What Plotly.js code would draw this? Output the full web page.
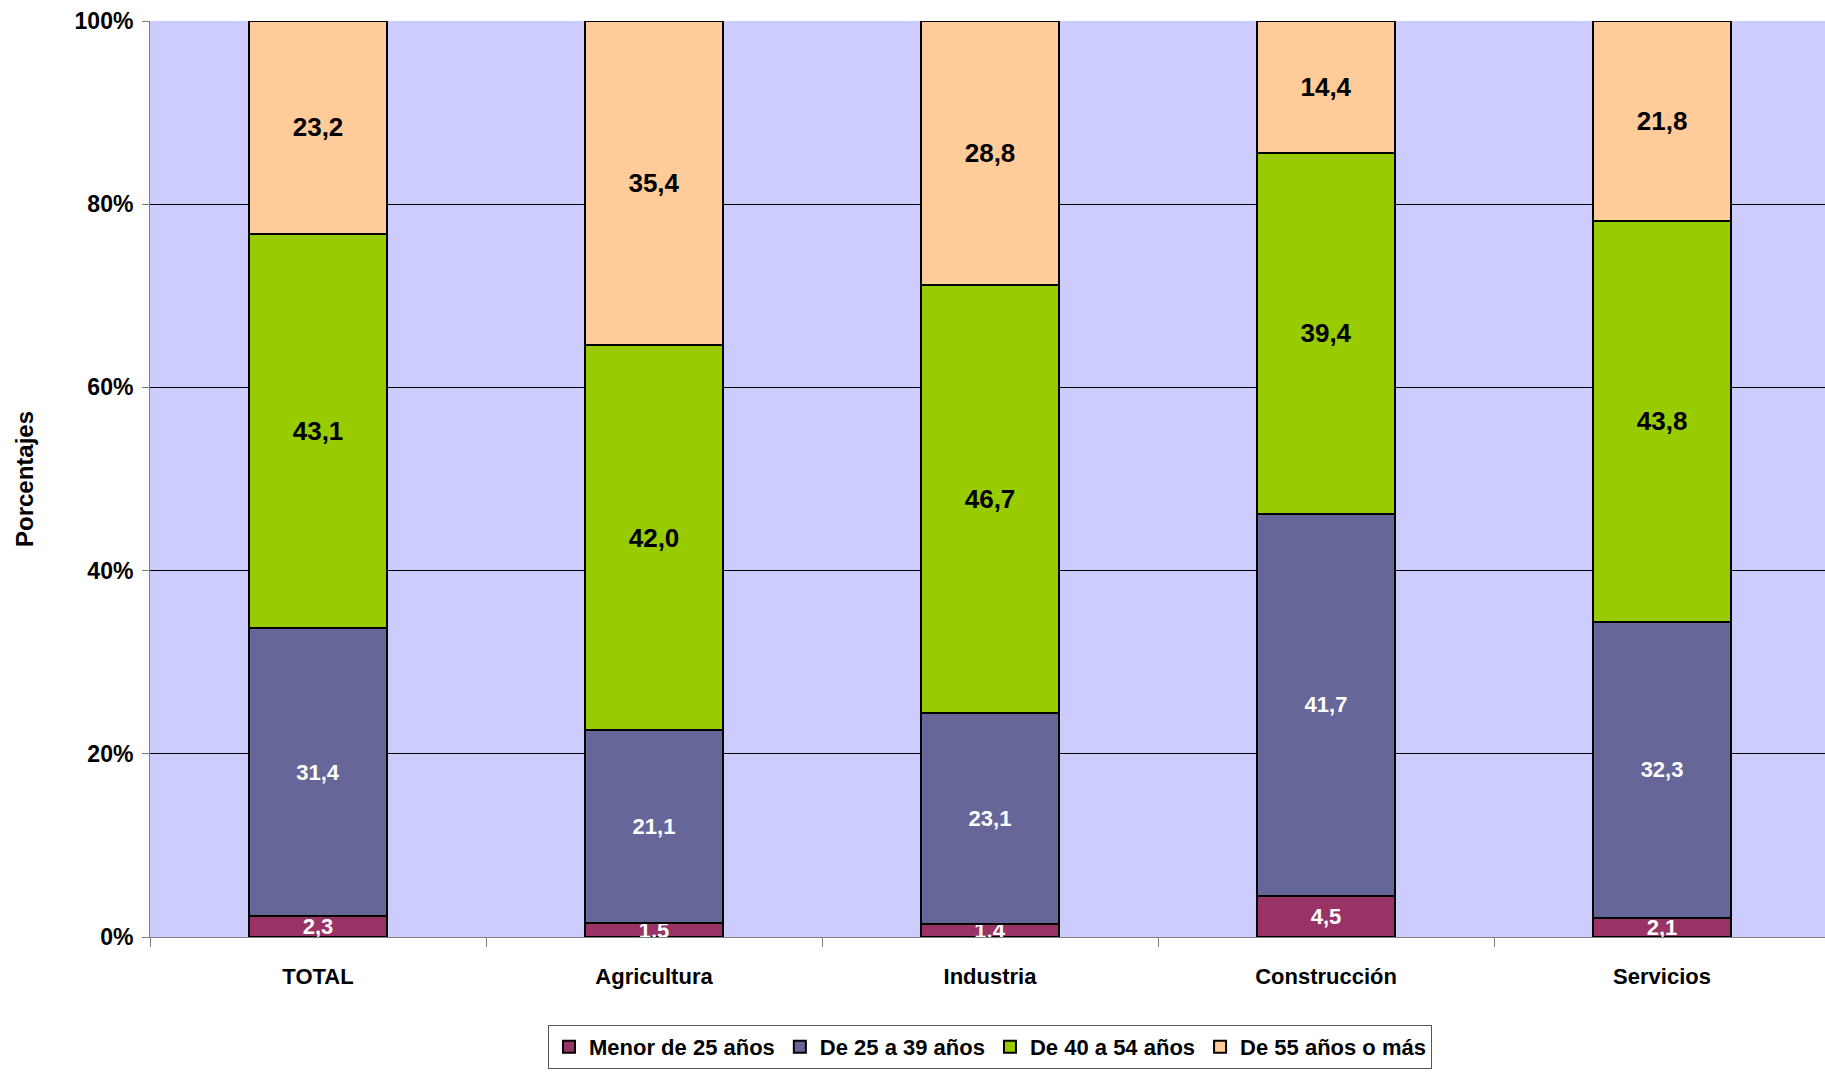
<!DOCTYPE html>
<html>
<head>
<meta charset="utf-8">
<script src="https://cdn.plot.ly/plotly-3.0.1.min.js"></script>
<style>html,body{margin:0;padding:0;background:#fff;}#chart{width:1825px;height:1072px;}</style>
</head>
<body>
<div id="chart"></div>
<script>
const categories = ["TOTAL", "Agricultura", "Industria", "Construcción", "Servicios"];
const seriesNames = ["Menor de 25 años", "De 25 a 39 años", "De 40 a 54 años", "De 55 años o más"];
const menor25 = [2.3, 1.5, 1.4, 4.5, 2.1];
const de25a39 = [31.4, 21.1, 23.1, 41.7, 32.3];
const de40a54 = [43.1, 42.0, 46.7, 39.4, 43.8];
const de55mas = [23.2, 35.4, 28.8, 14.4, 21.8];
const yTickVals = [0, 20, 40, 60, 80, 100];

const seriesValues = [menor25, de25a39, de40a54, de55mas];
const colors = ["#993366", "#666699", "#99CC00", "#FFCC99"];
const textColors = ["#FFFFFF", "#FFFFFF", "#000000", "#000000"];
const textSizes = [22, 22, 26, 26];
const FONT = "'Liberation Sans', Arial, Helvetica, sans-serif";

const fmt = v => v.toFixed(1).replace('.', ',');

const traces = seriesValues.map((vals, i) => ({
  type: 'bar',
  name: seriesNames[i],
  x: categories,
  y: vals,
  width: 0.41,
  text: vals.map(fmt),
  textposition: 'inside',
  insidetextanchor: 'middle',
  textangle: 0,
  constraintext: 'none',
  cliponaxis: false,
  textfont: {family: FONT, size: textSizes[i], color: textColors[i], weight: 'bold'},
  marker: {color: colors[i], line: {color: '#000000', width: 2}},
  hoverinfo: 'skip'
}));

const layout = {
  width: 1825,
  height: 1072,
  margin: {l: 150, r: 0, t: 21, b: 135},
  paper_bgcolor: '#FFFFFF',
  plot_bgcolor: '#CCCCFF',
  barmode: 'stack',
  showlegend: true,
  font: {family: FONT, size: 22, color: '#000000', weight: 'bold'},
  xaxis: {
    type: 'category',
    range: [-0.5, 4.485],
    tickson: 'boundaries',
    ticks: 'outside',
    ticklen: 9,
    tickcolor: '#808080',
    tickwidth: 1,
    showline: true,
    linecolor: '#808080',
    linewidth: 1,
    showgrid: false,
    zeroline: false,
    ticklabelstandoff: 20,
    tickfont: {family: FONT, size: 22, color: '#000000', weight: 'bold'},
    fixedrange: true
  },
  yaxis: {
    range: [0, 100],
    tickvals: yTickVals,
    ticktext: yTickVals.map(v => v + '%'),
    ticks: 'outside',
    ticklen: 7,
    tickcolor: '#808080',
    showline: true,
    linecolor: '#808080',
    linewidth: 1,
    showgrid: true,
    gridcolor: '#000000',
    gridwidth: 1,
    zeroline: false,
    ticklabelstandoff: 4,
    tickfont: {family: FONT, size: 23, color: '#000000', weight: 'bold'},
    title: {text: 'Porcentajes', standoff: 34, font: {family: FONT, size: 24, color: '#000000', weight: 'bold'}},
    automargin: false,
    fixedrange: true
  },
  legend: {
    orientation: 'h',
    traceorder: 'normal',
    x: 0.5015,
    xanchor: 'center',
    y: -0.096,
    yanchor: 'top',
    bgcolor: '#FFFFFF',
    bordercolor: '#555555',
    borderwidth: 1,
    itemwidth: 30,
    font: {family: FONT, size: 22, color: '#000000', weight: 'bold'}
  }
};

Plotly.newPlot('chart', traces, layout, {displayModeBar: false, staticPlot: true});
</script>
</body>
</html>
